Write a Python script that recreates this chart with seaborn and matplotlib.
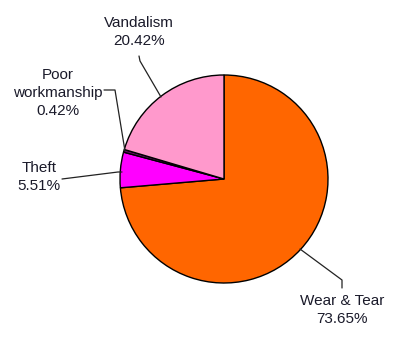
import matplotlib
matplotlib.use("Agg")
import matplotlib.pyplot as plt
import seaborn as sns

sns.set_theme(style="white")
plt.rcParams["font.family"] = ["Liberation Sans", "DejaVu Sans"]

categories = ["Wear & Tear", "Theft", "Poor workmanship", "Vandalism"]
shares = [73.65, 5.51, 0.42, 20.42]
colors = ["#FF6600", "#FF00FF", "#6A0A6A", "#FF99CC"]

W, H = 393, 339
cx, cy, r = 224, 179, 104

fig = plt.figure(figsize=(W / 100, H / 100), dpi=100)
ax = fig.add_axes([(cx - r) / W, (H - cy - r) / H, 2 * r / W, 2 * r / H])
ax.pie(shares, colors=colors, startangle=90, counterclock=False,
       wedgeprops=dict(edgecolor="black", linewidth=1.0))
ax.set_xlim(-1, 1)
ax.set_ylim(-1, 1)
ax.set_aspect("equal")
ax.axis("off")


def d(px, py):
    return (px - cx) / r, (cy - py) / r


# leader lines (pixel paths) and label anchors
leaders = {
    "Wear & Tear": [(300, 249), (342, 280), (342, 288)],
    "Theft": [(62, 179), (118, 172), (122, 172)],
    "Poor workmanship": [(104, 90), (115, 90), (125, 151)],
    "Vandalism": [(139, 56), (140, 61), (161, 97)],
}
label_pos = {
    "Wear & Tear": (342, 310),
    "Theft": (39, 177),
    "Poor workmanship": (58, 93),
    "Vandalism": (139, 32),
}

for name, val in zip(categories, shares):
    pts = [d(*p) for p in leaders[name]]
    ax.plot([p[0] for p in pts], [p[1] for p in pts], color="#222222",
            linewidth=0.9, clip_on=False)
    lx, ly = d(*label_pos[name])
    text = name.replace("Poor workmanship", "Poor\nworkmanship")
    ax.text(lx, ly, f"{text}\n{val:.2f}%", ha="center", va="center",
            fontsize=11, color="#1a1a2a", linespacing=1.32, clip_on=False)

fig.savefig("out.png", dpi=100)
